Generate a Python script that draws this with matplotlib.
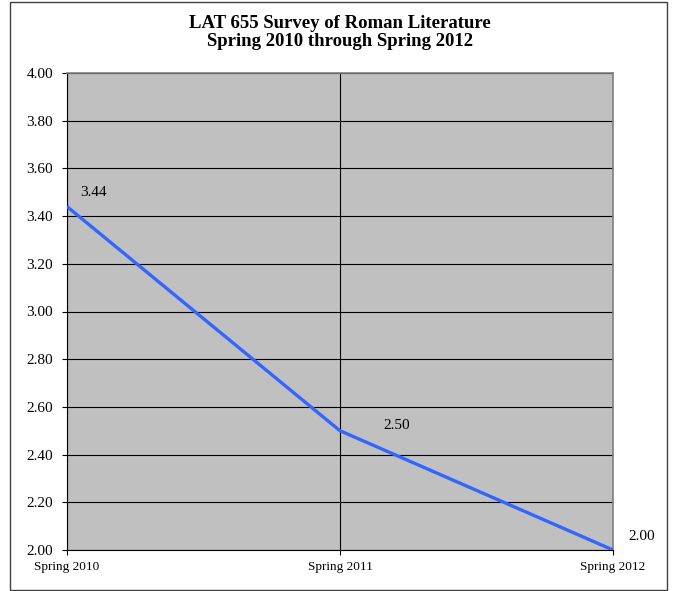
import matplotlib
matplotlib.use("Agg")
import matplotlib.pyplot as plt
from matplotlib.patches import Rectangle

terms = ["Spring 2010", "Spring 2011", "Spring 2012"]
scores = [3.44, 2.50, 2.00]
yticks = [2.0, 2.2, 2.4, 2.6, 2.8, 3.0, 3.2, 3.4, 3.6, 3.8, 4.0]

plt.rcParams['font.family'] = ['Liberation Serif', 'DejaVu Serif']

W, H = 678, 591
fig = plt.figure(figsize=(W / 100, H / 100), dpi=100)

# border round the whole chart
fig.patches.append(Rectangle((10 / W, 1 - 590 / H), 657 / W, 588 / H,
                             transform=fig.transFigure, fill=False,
                             edgecolor='#404040', linewidth=1.0))

ax = fig.add_axes([67 / W, 1 - 550 / H, (613 - 67) / W, (550 - 73) / H])
ax.set_facecolor('#C0C0C0')

x = list(range(len(terms)))
ax.plot(x, scores, color='#3366FF', linewidth=2.4, solid_capstyle='butt', zorder=3)

# data labels, offsets in pixels (left edge, vertical centre)
offsets = [(13, 14), (43, 5), (15, 13)]
for xi, yi, (dx, dy) in zip(x, scores, offsets):
    ax.annotate(f"{yi:.2f}", (xi, yi), xytext=(dx * 0.72, dy * 0.72),
                textcoords='offset points', fontsize=11, va='center', ha='left')

ax.set_xlim(0, len(terms) - 1)
ax.set_ylim(2.0, 4.0)
ax.set_yticks(yticks)
ax.set_yticklabels([f"{v:.2f}" for v in yticks], fontsize=11)
ax.set_xticks(x)
ax.set_xticklabels(terms, fontsize=9.5)

ax.grid(True, color='black', linewidth=0.8)
ax.set_axisbelow(True)
for s in ['top', 'right']:
    ax.spines[s].set_color('#808080')
    ax.spines[s].set_linewidth(1.2)
ax.spines['left'].set_color('black')
ax.spines['bottom'].set_color('black')
ax.tick_params(axis='both', length=3.6, width=0.8, color='black')
ax.tick_params(axis='y', pad=6.5)
ax.tick_params(axis='x', pad=4)

cx = 0.5 * (67 + 613) / W
fig.text(cx, 1 - 23 / H, "LAT 655 Survey of Roman Literature",
         ha='center', va='center', fontsize=13.5, fontweight='bold')
fig.text(cx, 1 - 42 / H, "Spring 2010 through Spring 2012",
         ha='center', va='center', fontsize=13.5, fontweight='bold')

fig.savefig("out.png", dpi=100)
